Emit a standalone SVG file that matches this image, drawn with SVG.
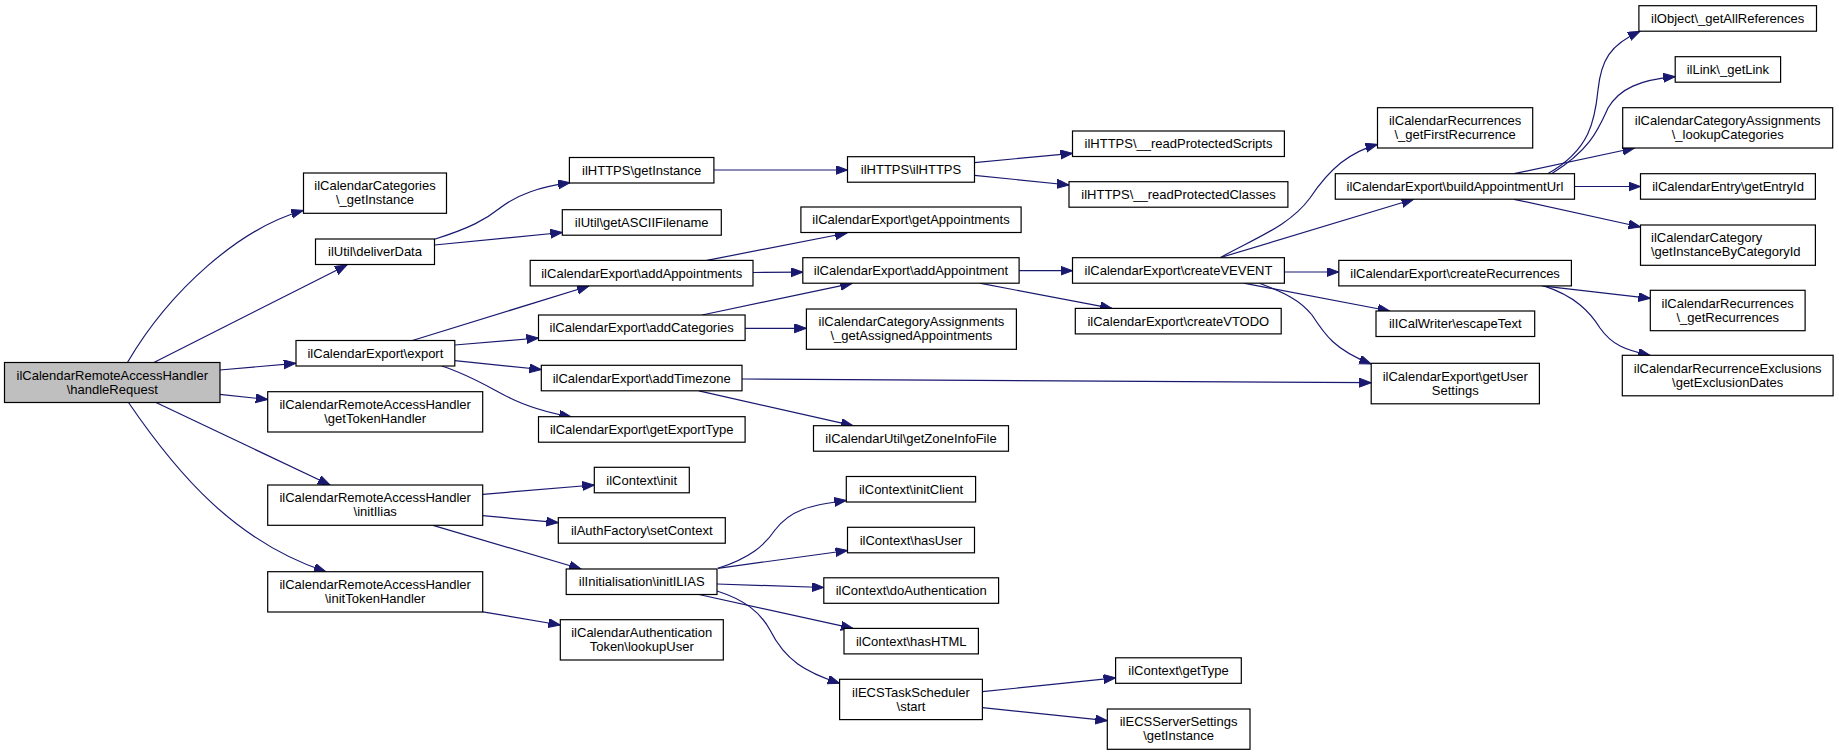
<svg xmlns="http://www.w3.org/2000/svg" width="1839" height="755" viewBox="0 0 1839 755">
<style>
.node rect{fill:#ffffff;stroke:#000000;stroke-width:1.2}
.node.root rect{fill:#bfbfbf}
.node text{font-family:"Liberation Sans",Arial,sans-serif;font-size:13px;fill:#000000;text-anchor:middle}
.node text.l{text-anchor:start}
.edges path{fill:none;stroke:#191970;stroke-width:1.2;marker-end:url(#arr)}
</style>
<defs>
<marker id="arr" markerUnits="userSpaceOnUse" markerWidth="13" markerHeight="10" refX="12" refY="4.5" orient="auto">
<path d="M0,0 L12,4.5 L0,9 Z" fill="#191970" stroke="#191970" stroke-width="1"/>
</marker>
</defs>
<rect x="0" y="0" width="1839" height="755" fill="#ffffff"/>
<g class="edges" id="edges">
<path d="M127.3,362.7 C170,290 240,228 303.3,210.5"/>
<path d="M153.4,362.7 L347,265"/>
<path d="M219.8,370 L295.8,363.3"/>
<path d="M219.8,394.3 L267.7,399.5"/>
<path d="M156,402.5 L330,485"/>
<path d="M128.5,402.5 C178,475 236,542 326,571.7"/>
<path d="M434.5,239.3 C470,228 485,220 500,208 C518,194 540,187 570,182.7"/>
<path d="M434.5,245 L562.3,232.5"/>
<path d="M412.4,340.5 L589,286"/>
<path d="M454.7,345 L538.5,338"/>
<path d="M454.7,360.7 L541.3,369.5"/>
<path d="M441.7,366 C470,375 490,388 510,398 C530,408 550,413 571.4,417"/>
<path d="M713.9,170 L847.5,170"/>
<path d="M974.4,162.7 L1072.5,153.3"/>
<path d="M974.4,175.3 L1069,185"/>
<path d="M706.8,260.4 L847,233"/>
<path d="M753,272.5 L802.8,272.2"/>
<path d="M702,315 L852.3,283.3"/>
<path d="M745.1,328.3 L806.4,328.3"/>
<path d="M1019.1,270.7 L1072.5,270.7"/>
<path d="M979.6,283.2 L1112,308.4"/>
<path d="M742,379 L1371.2,382.7"/>
<path d="M698.9,390.8 L853,425.7"/>
<path d="M1220,257.7 C1260,236 1290,225 1310,198 C1330,168 1350,152 1377.5,144.3"/>
<path d="M1220,257.7 L1413.5,199.3"/>
<path d="M1284.4,272 L1338.8,272"/>
<path d="M1243.7,283.2 L1389.8,311"/>
<path d="M1259.5,283.2 C1285,293 1300,300 1312,315 C1325,335 1335,350 1371.2,364"/>
<path d="M1547.7,173.7 C1590,150 1595,120 1598,90 C1601,60 1610,45 1640,31.3"/>
<path d="M1551.6,173.7 C1590,150 1598,130 1608,108 C1620,88 1640,80 1675.2,76.7"/>
<path d="M1514.1,173.7 L1634.5,148"/>
<path d="M1574.5,186.5 L1640.5,186.5"/>
<path d="M1514.1,199.3 L1640.5,227"/>
<path d="M1541.8,285.9 L1650.3,298.3"/>
<path d="M1543.7,285.9 C1575,296 1590,312 1600,328 C1612,345 1625,350 1650.3,355.5"/>
<path d="M482.8,494.3 L594.3,485"/>
<path d="M482.8,515.7 L558.3,522.7"/>
<path d="M433,525.3 L581.2,569"/>
<path d="M482.8,611.8 L560.3,625"/>
<path d="M717.8,568.3 C750,558 765,545 775,530 C790,510 810,505 846.3,500.5"/>
<path d="M717.8,568.3 L847.5,550.5"/>
<path d="M717,584 L823.8,587.5"/>
<path d="M698.9,594.5 L853,628.4"/>
<path d="M717,591 C745,600 760,612 770,630 C785,660 805,672 839.6,683.3"/>
<path d="M982.4,691.7 L1115.6,677.8"/>
<path d="M982.4,707.7 L1107.3,720.7"/>
</g>
<g id="n_handleRequest" class="node root"><rect x="4.5" y="362.5" width="215.5" height="40"/><text><tspan x="112.25" y="379.5">ilCalendarRemoteAccessHandler</tspan><tspan x="112.25" y="393.5">\handleRequest</tspan></text></g>
<g id="n_catGetInstance" class="node"><rect x="303.5" y="173" width="143" height="40.3"/><text><tspan x="375" y="190.2">ilCalendarCategories</tspan><tspan x="375" y="204.2">\_getInstance</tspan></text></g>
<g id="n_deliverData" class="node"><rect x="315.5" y="239" width="119" height="25.5"/><text x="375" y="256.3">ilUtil\deliverData</text></g>
<g id="n_export" class="node"><rect x="296" y="340.5" width="158.8" height="25.5"/><text x="375.4" y="357.8">ilCalendarExport\export</text></g>
<g id="n_getTokenHandler" class="node"><rect x="267.7" y="391.7" width="215" height="40.3"/><text><tspan x="375.2" y="408.9">ilCalendarRemoteAccessHandler</tspan><tspan x="375.2" y="422.9">\getTokenHandler</tspan></text></g>
<g id="n_initIlias" class="node"><rect x="267.7" y="485" width="215" height="40.3"/><text><tspan x="375.2" y="502.2">ilCalendarRemoteAccessHandler</tspan><tspan x="375.2" y="516.2">\initIlias</tspan></text></g>
<g id="n_initTokenHandler" class="node"><rect x="267.7" y="571.7" width="215" height="40.3"/><text><tspan x="375.2" y="588.9">ilCalendarRemoteAccessHandler</tspan><tspan x="375.2" y="602.9">\initTokenHandler</tspan></text></g>
<g id="n_httpsGetInstance" class="node"><rect x="569.4" y="157.5" width="144.5" height="25.5"/><text x="641.7" y="174.8">ilHTTPS\getInstance</text></g>
<g id="n_getASCIIFilename" class="node"><rect x="562.3" y="209.7" width="159" height="25.5"/><text x="641.7" y="227">ilUtil\getASCIIFilename</text></g>
<g id="n_addAppointments" class="node"><rect x="530.2" y="260.4" width="222.8" height="25.5"/><text x="641.7" y="277.7">ilCalendarExport\addAppointments</text></g>
<g id="n_addCategories" class="node"><rect x="538.5" y="315" width="206.6" height="25.5"/><text x="641.7" y="332.3">ilCalendarExport\addCategories</text></g>
<g id="n_addTimezone" class="node"><rect x="541.3" y="365.3" width="200.7" height="25.5"/><text x="641.7" y="382.6">ilCalendarExport\addTimezone</text></g>
<g id="n_getExportType" class="node"><rect x="538.5" y="416.7" width="206.6" height="25.5"/><text x="641.7" y="434">ilCalendarExport\getExportType</text></g>
<g id="n_ctxInit" class="node"><rect x="594.3" y="467.3" width="95" height="25.5"/><text x="641.7" y="484.6">ilContext\init</text></g>
<g id="n_setContext" class="node"><rect x="558.3" y="517.7" width="167" height="25.5"/><text x="641.7" y="535">ilAuthFactory\setContext</text></g>
<g id="n_initILIAS" class="node"><rect x="566.2" y="569" width="150.8" height="25.5"/><text x="641.7" y="586.3">ilInitialisation\initILIAS</text></g>
<g id="n_lookupUser" class="node"><rect x="560.3" y="619.7" width="163" height="40.3"/><text><tspan x="641.7" y="636.9">ilCalendarAuthentication</tspan><tspan x="641.7" y="650.9">Token\lookupUser</tspan></text></g>
<g id="n_ilHTTPS" class="node"><rect x="847.5" y="156.7" width="127" height="25.5"/><text x="911" y="174">ilHTTPS\ilHTTPS</text></g>
<g id="n_getAppointments" class="node"><rect x="800.9" y="207" width="220.2" height="25.5"/><text x="911" y="224.3">ilCalendarExport\getAppointments</text></g>
<g id="n_addAppointment" class="node"><rect x="802.8" y="257.7" width="216.3" height="25.5"/><text x="911" y="275">ilCalendarExport\addAppointment</text></g>
<g id="n_getAssigned" class="node"><rect x="806.4" y="309" width="210" height="40.3"/><text><tspan x="911.4" y="326.2">ilCalendarCategoryAssignments</tspan><tspan x="911.4" y="340.2">\_getAssignedAppointments</tspan></text></g>
<g id="n_getZoneInfoFile" class="node"><rect x="813.5" y="425.7" width="195" height="25.5"/><text x="911" y="443">ilCalendarUtil\getZoneInfoFile</text></g>
<g id="n_initClient" class="node"><rect x="846.3" y="476.5" width="129.3" height="25.5"/><text x="911" y="493.8">ilContext\initClient</text></g>
<g id="n_hasUser" class="node"><rect x="847.5" y="527.3" width="127" height="25.5"/><text x="911" y="544.6">ilContext\hasUser</text></g>
<g id="n_doAuthentication" class="node"><rect x="823.8" y="577.8" width="174.8" height="25.5"/><text x="911.2" y="595.1">ilContext\doAuthentication</text></g>
<g id="n_hasHTML" class="node"><rect x="844" y="628.4" width="134.4" height="25.5"/><text x="911.2" y="645.7">ilContext\hasHTML</text></g>
<g id="n_ecsTaskStart" class="node"><rect x="839.6" y="679.3" width="142.8" height="40.3"/><text><tspan x="911" y="696.5">ilECSTaskScheduler</tspan><tspan x="911" y="710.5">\start</tspan></text></g>
<g id="n_readScripts" class="node"><rect x="1072.5" y="131" width="211.9" height="25.5"/><text x="1178.5" y="148.3">ilHTTPS\__readProtectedScripts</text></g>
<g id="n_readClasses" class="node"><rect x="1069" y="181.7" width="218.9" height="25.5"/><text x="1178.5" y="199">ilHTTPS\__readProtectedClasses</text></g>
<g id="n_createVEVENT" class="node"><rect x="1072.5" y="257.7" width="211.9" height="25.5"/><text x="1178.5" y="275">ilCalendarExport\createVEVENT</text></g>
<g id="n_createVTODO" class="node"><rect x="1075.3" y="308.4" width="205.9" height="25.5"/><text x="1178.3" y="325.7">ilCalendarExport\createVTODO</text></g>
<g id="n_getType" class="node"><rect x="1115.6" y="657.8" width="125.7" height="25.5"/><text x="1178.5" y="675.1">ilContext\getType</text></g>
<g id="n_ecsServerSettings" class="node"><rect x="1107.3" y="709" width="142.7" height="40.3"/><text><tspan x="1178.6" y="726.2">ilECSServerSettings</tspan><tspan x="1178.6" y="740.2">\getInstance</tspan></text></g>
<g id="n_getFirstRecurrence" class="node"><rect x="1377.5" y="107.7" width="155.2" height="40.3"/><text><tspan x="1455.1" y="124.9">ilCalendarRecurrences</tspan><tspan x="1455.1" y="138.9">\_getFirstRecurrence</tspan></text></g>
<g id="n_buildAppointmentUrl" class="node"><rect x="1335.3" y="173.7" width="239.2" height="25.5"/><text x="1454.9" y="191">ilCalendarExport\buildAppointmentUrl</text></g>
<g id="n_createRecurrences" class="node"><rect x="1338.8" y="260.4" width="232.6" height="25.5"/><text x="1455.1" y="277.7">ilCalendarExport\createRecurrences</text></g>
<g id="n_escapeText" class="node"><rect x="1376" y="311" width="158.7" height="25.5"/><text x="1455.3" y="328.3">ilICalWriter\escapeText</text></g>
<g id="n_getUserSettings" class="node"><rect x="1371.2" y="363.3" width="168.2" height="40.5"/><text><tspan x="1455.3" y="380.6">ilCalendarExport\getUser</tspan><tspan x="1455.3" y="394.6">Settings</tspan></text></g>
<g id="n_getAllReferences" class="node"><rect x="1638.9" y="5.7" width="177.6" height="25.5"/><text x="1727.7" y="23">ilObject\_getAllReferences</text></g>
<g id="n_getLink" class="node"><rect x="1675.2" y="56.7" width="105.4" height="25.5"/><text x="1727.9" y="74">ilLink\_getLink</text></g>
<g id="n_lookupCategories" class="node"><rect x="1622.7" y="107.7" width="210" height="40.3"/><text><tspan x="1727.7" y="124.9">ilCalendarCategoryAssignments</tspan><tspan x="1727.7" y="138.9">\_lookupCategories</tspan></text></g>
<g id="n_getEntryId" class="node"><rect x="1640.5" y="173.7" width="174.9" height="25.5"/><text x="1728" y="191">ilCalendarEntry\getEntryId</text></g>
<g id="n_getInstanceByCategoryId" class="node"><rect x="1640.5" y="225" width="174.9" height="40.3"/><text class="l"><tspan x="1651" y="242.2">ilCalendarCategory</tspan><tspan x="1651" y="256.2">\getInstanceByCategoryId</tspan></text></g>
<g id="n_getRecurrences" class="node"><rect x="1650.3" y="290.3" width="154.8" height="40.4"/><text><tspan x="1727.7" y="307.5">ilCalendarRecurrences</tspan><tspan x="1727.7" y="321.5">\_getRecurrences</tspan></text></g>
<g id="n_getExclusionDates" class="node"><rect x="1622.3" y="355.3" width="210.8" height="40.5"/><text><tspan x="1727.7" y="372.6">ilCalendarRecurrenceExclusions</tspan><tspan x="1727.7" y="386.6">\getExclusionDates</tspan></text></g>
</svg>
